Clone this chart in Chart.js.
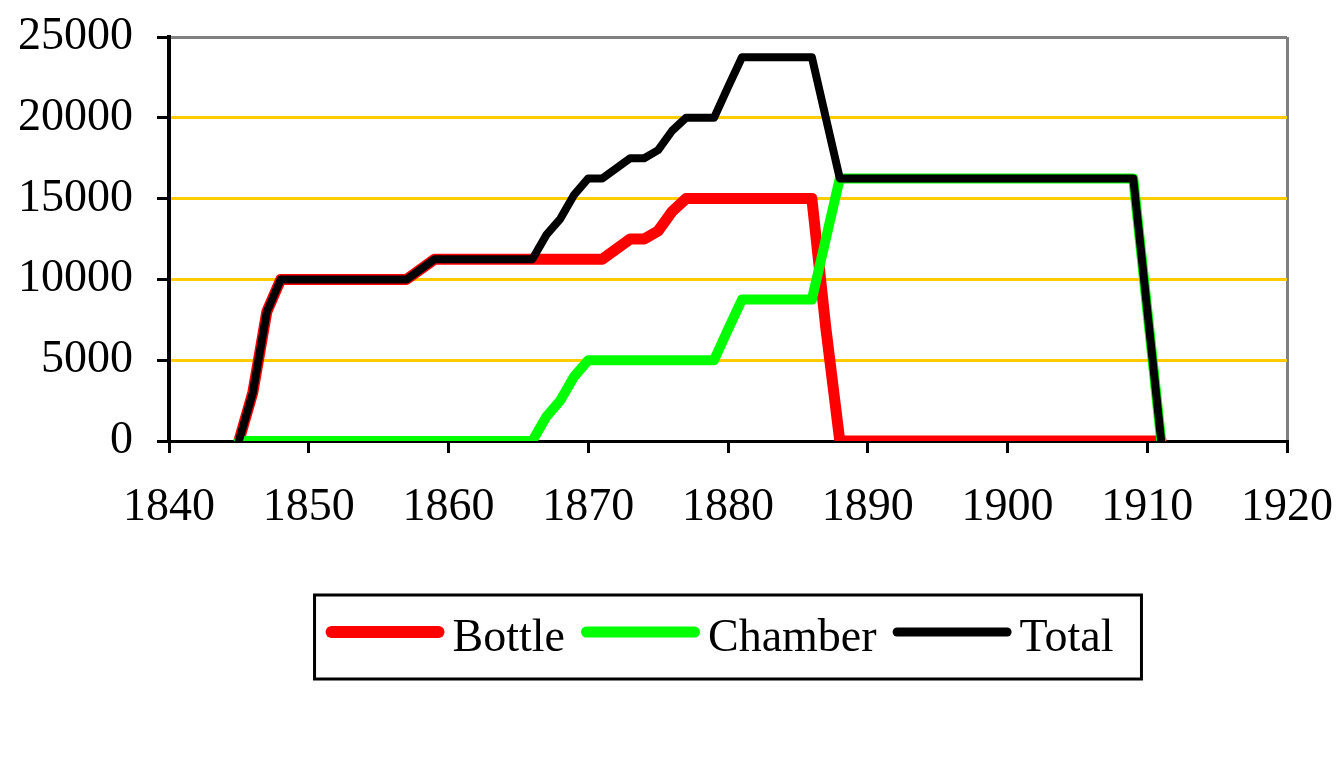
<!DOCTYPE html>
<html>
<head>
<meta charset="utf-8">
<script src="https://cdn.jsdelivr.net/npm/chart.js@4.4.0/dist/chart.umd.min.js"></script>
<style>
html,body{margin:0;padding:0;background:#ffffff;}
#wrap{width:1344px;height:764px;position:relative;}
</style>
</head>
<body>
<div id="wrap"><canvas id="c" width="1344" height="764"></canvas></div>
<script>
// ---- data ----
const seriesNames = ['Bottle', 'Chamber', 'Total'];
const seriesColors = ['#FF0000', '#00FF00', '#000000'];

const bottleYears  = [1845, 1846, 1847, 1848, 1857, 1859, 1871, 1873, 1874, 1875, 1876, 1877, 1886, 1887, 1888, 1911];
const bottleValues = [0, 3000, 8000, 10000, 10000, 11250, 11250, 12500, 12500, 13000, 14200, 15000, 15000, 7000, 0, 0];

const chamberYears  = [1845, 1866, 1867, 1868, 1869, 1870, 1879, 1880, 1881, 1886, 1887, 1888, 1909, 1911];
const chamberValues = [0, 0, 1500, 2500, 4000, 5000, 5000, 6900, 8750, 8750, 12500, 16250, 16250, 0];

const totalYears  = [1845, 1846, 1847, 1848, 1857, 1859, 1866, 1867, 1868, 1869, 1870, 1871, 1873, 1874, 1875, 1876, 1877, 1879, 1880, 1881, 1886, 1887, 1888, 1909, 1911];
const totalValues = [0, 3000, 8000, 10000, 10000, 11250, 11250, 12750, 13750, 15250, 16250, 16250, 17500, 17500, 18000, 19200, 20000, 20000, 21900, 23750, 23750, 20000, 16250, 16250, 0];

const xTickLabels = [1840, 1850, 1860, 1870, 1880, 1890, 1900, 1910, 1920];
const yTickLabels = [0, 5000, 10000, 15000, 20000, 25000];

// ---- build ----
const toPoints = (xs, ys) => xs.map((x, i) => ({x: x, y: ys[i]}));
const FONT = '"Liberation Serif", "Times New Roman", serif';
Chart.defaults.font.family = FONT;
Chart.defaults.font.size = 46;
Chart.defaults.color = '#000000';

const legendPlugin = {
  id: 'boxLegend',
  afterDraw(chart) {
    const ctx = chart.ctx, ca = chart.chartArea;
    ctx.save();
    ctx.font = '46px ' + FONT;
    const lineLen = 119, gapLT = 8, gapItems = 16, padL = 11, padR = 28;
    const items = chart.data.datasets.map(d => ({
      text: d.label, color: d.borderColor, w: d.borderWidth, tw: ctx.measureText(d.label).width
    }));
    const total = padL + padR + items.reduce((s, it) => s + lineLen + gapLT + it.tw, 0) + gapItems * (items.length - 1);
    const left = (ca.left + ca.right) / 2 - total / 2;
    const top = ca.bottom + 154, h = 84;
    ctx.lineWidth = 3;
    ctx.strokeStyle = '#000000';
    ctx.strokeRect(left, top, total, h);
    let x = left + padL;
    const ly = top + 37, ty = top + 56;
    items.forEach(it => {
      const lw = it.w + 1;
      ctx.beginPath();
      ctx.lineCap = 'round';
      ctx.lineWidth = lw;
      ctx.strokeStyle = it.color;
      ctx.moveTo(x + lw / 2, ly);
      ctx.lineTo(x + lineLen - lw / 2, ly);
      ctx.stroke();
      x += lineLen + gapLT;
      ctx.fillStyle = '#000000';
      ctx.textBaseline = 'alphabetic';
      ctx.textAlign = 'left';
      ctx.fillText(it.text, x, ty);
      x += it.tw + gapItems;
    });
    ctx.restore();
  }
};

const widths = [11, 10, 8];
const drawOrder = [3, 2, 1];
const pointSets = [
  toPoints(bottleYears, bottleValues),
  toPoints(chamberYears, chamberValues),
  toPoints(totalYears, totalValues)
];

new Chart(document.getElementById('c'), {
  type: 'line',
  data: {
    datasets: seriesNames.map((name, i) => ({
      label: name,
      data: pointSets[i],
      borderColor: seriesColors[i],
      backgroundColor: seriesColors[i],
      borderWidth: widths[i],
      order: drawOrder[i],
      pointRadius: 0,
      tension: 0,
      borderJoinStyle: 'round',
      borderCapStyle: 'round',
      fill: false
    }))
  },
  options: {
    responsive: false,
    animation: false,
    events: [],
    layout: {padding: {left: 0, right: 57, top: 37, bottom: 223}},
    plugins: {legend: {display: false}, tooltip: {enabled: false}},
    scales: {
      x: {
        type: 'linear',
        min: xTickLabels[0],
        max: xTickLabels[xTickLabels.length - 1],
        afterBuildTicks: s => { s.ticks = xTickLabels.map(v => ({value: v})); },
        afterFit: s => { s.height = 100; s.paddingLeft = 0; s.paddingRight = 0; s.paddingTop = 0; s.paddingBottom = 0; },
        ticks: {padding: 27, maxRotation: 0, autoSkip: false, callback: v => String(v), font: {size: 46}},
        grid: {
          drawOnChartArea: true,
          color: c => (c.tick && c.tick.value === xTickLabels[xTickLabels.length - 1]) ? '#808080' : 'rgba(0,0,0,0)',
          lineWidth: 3,
          tickColor: '#000000',
          tickWidth: 3,
          tickLength: 12
        },
        border: {color: '#000000', width: 3}
      },
      y: {
        type: 'linear',
        min: yTickLabels[0],
        max: yTickLabels[yTickLabels.length - 1],
        afterBuildTicks: s => { s.ticks = yTickLabels.map(v => ({value: v})); },
        afterFit: s => { s.width = 169; s.paddingLeft = 0; s.paddingRight = 0; s.paddingTop = 0; s.paddingBottom = 0; },
        ticks: {padding: 24, callback: v => String(v), font: {size: 46}},
        grid: {
          color: c => {
            const v = c.tick ? c.tick.value : null;
            if (v === yTickLabels[yTickLabels.length - 1]) return '#808080';
            if (v === yTickLabels[0]) return 'rgba(0,0,0,0)';
            return '#FFCC00';
          },
          lineWidth: 3,
          tickColor: '#000000',
          tickWidth: 3,
          tickLength: 12
        },
        border: {color: '#000000', width: 4}
      }
    }
  },
  plugins: [legendPlugin]
});
</script>
</body>
</html>
